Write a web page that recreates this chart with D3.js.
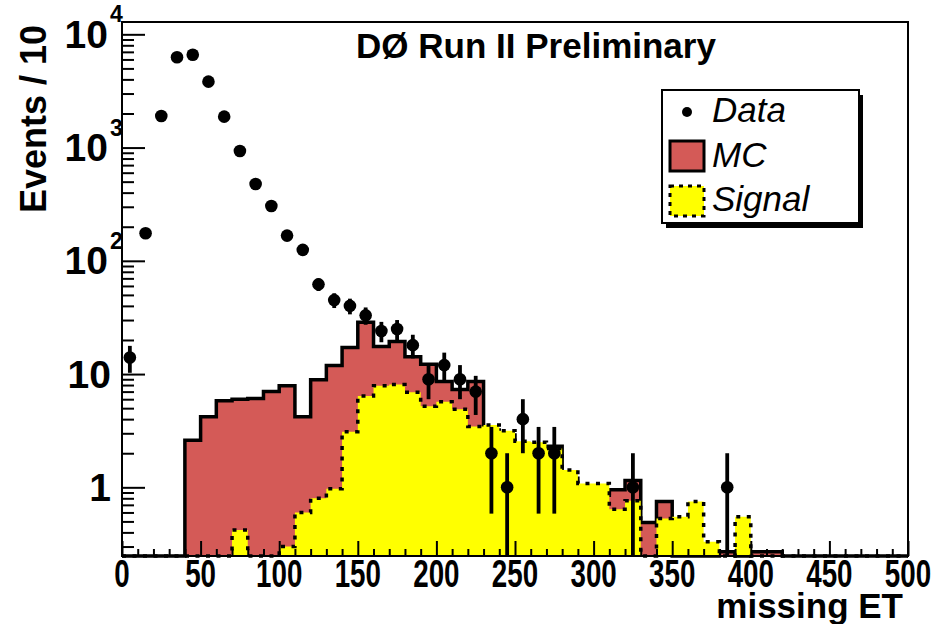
<!DOCTYPE html>
<html>
<head>
<meta charset="utf-8">
<script src="https://cdn.jsdelivr.net/npm/d3@7"></script>
<style>
body{margin:0;background:#fff;}
text{font-family:"Liberation Sans",Arial,sans-serif;}
</style>
</head>
<body>
<div id="chart"></div>
<script>
var width = 951
var height = 624
var margin = {top:22, right:43, bottom:68, left:122}

// bin lower edges (GeV), 10 wide
var binLow = [0,10,20,30,40,50,60,70,80,90,100,110,120,130,140,150,160,170,180,190,
              200,210,220,230,240,250,260,270,280,290,300,310,320,330,340,350,360,370,380,390,
              400,410,420,430,440,450,460,470,480,490]
var dataCounts = [14,175,1900,6270,6600,3820,1875,933,477,305,
                  167,125,62,45,40,33,24,25,18,9,
                  12,9,7,2,1,4,2,2,0,0,
                  0,0,1,0,0,0,0,0,1,0,
                  0,0,0,0,0,0,0,0,0,0]
var mcValues = [0,0,0,0,2.6,4.2,5.8,6.0,6.1,7.0,
                7.9,4.2,8.9,11.9,17.2,28.7,17.5,19.4,14.2,12.2,
                8.6,7.3,8.6,3.2,2.9,2.3,2.2,2.3,1.2,0.95,
                0.85,0.95,1.15,0.49,0.75,0,0,0,0.27,0,
                0.27,0.27,0,0,0,0,0,0,0,0]
var signalValues = [0,0,0,0,0,0,0,0.42,0,0,
                    0.30,0.60,0.80,0.97,3.1,6.4,7.9,8.1,6.9,5.2,
                    5.7,4.9,3.45,3.55,3.16,2.55,2.5,2.2,1.42,1.08,
                    1.08,0.64,0.76,0,0.53,0.55,0.75,0.33,0,0.55,
                    0,0,0,0,0,0,0,0,0,0]
var xTicks = [0,50,100,150,200,250,300,350,400,450,500]
var yTicks = [1,10,100,1000,10000]
var yTickBase = ['1','10','10','10','10']
var yTickExp = ['','','2','3','4']
var legendLabels = ['Data','MC','Signal']

var mcColor = '#d45a57'
var sigColor = '#ffff00'
var binWidth = 10

var svg = d3.select('#chart').append('svg')
  .attr('width',width).attr('height',height)

var x = d3.scaleLinear().domain([0,500]).range([margin.left, width-margin.right])
var yMin = 0.2475
var y = d3.scaleLog().domain([yMin,12846]).range([height-margin.bottom, margin.top]).clamp(true)
var yBottom = height-margin.bottom

function yv(v){ return v > yMin ? y(v) : yBottom }

function stepPath(vals, closed){
  var p = 'M'+x(0)+','+yBottom
  vals.forEach(function(v,i){
    p += 'L'+x(binLow[i])+','+yv(v)+'L'+x(binLow[i]+binWidth)+','+yv(v)
  })
  p += 'L'+x(500)+','+yBottom
  if(closed) p += 'Z'
  return p
}

// MC histogram
svg.append('path').attr('d',stepPath(mcValues,true)).attr('fill',mcColor).attr('stroke','none')
svg.append('path').attr('d',stepPath(mcValues,false)).attr('fill','none')
  .attr('stroke','black').attr('stroke-width',3.5).attr('stroke-linejoin','miter')

// signal histogram
svg.append('path').attr('d',stepPath(signalValues,true)).attr('fill',sigColor).attr('stroke','none')
svg.append('path').attr('d',stepPath(signalValues,false)).attr('fill','none')
  .attr('stroke','black').attr('stroke-width',3.5).attr('stroke-dasharray','4,6.5')

// data points with sqrt(N) errors
var pts = svg.append('g')
dataCounts.forEach(function(n,i){
  if(n <= 0) return
  var cx = x(binLow[i]+binWidth/2)
  var err = Math.sqrt(n)
  pts.append('line').attr('x1',cx).attr('x2',cx)
    .attr('y1',yv(n-err)).attr('y2',yv(n+err))
    .attr('stroke','black').attr('stroke-width',3.8)
  pts.append('circle').attr('cx',cx).attr('cy',y(n)).attr('r',6.3).attr('fill','black')
})

// frame
svg.append('rect').attr('x',x(0)).attr('y',margin.top)
  .attr('width',x(500)-x(0)).attr('height',yBottom-margin.top)
  .attr('fill','none').attr('stroke','black').attr('stroke-width',2)

// y axis ticks (inside)
var yMinor = y.ticks().filter(function(t){ return yTicks.indexOf(t) < 0 })
var gy = svg.append('g').attr('transform','translate('+x(0)+',0)')
gy.append('g').call(d3.axisLeft(y).tickValues(yTicks).tickSize(-23).tickFormat(''))
gy.append('g').call(d3.axisLeft(y).tickValues(yMinor).tickSize(-12).tickFormat(''))
gy.selectAll('.domain').remove()
gy.selectAll('line').attr('stroke','black').attr('stroke-width',2)

yTicks.forEach(function(t,i){
  var ty = y(t)
  svg.append('text').attr('x',yTickExp[i] ? 108 : 111).attr('y',ty+13.5)
    .attr('text-anchor','end').attr('font-size',39).attr('font-weight','bold')
    .text(yTickBase[i])
  if(yTickExp[i]){
    svg.append('text').attr('x',110).attr('y',ty-12)
      .attr('font-size',23).attr('font-weight','bold').text(yTickExp[i])
  }
})

// x axis ticks (inside)
var gx = svg.append('g').attr('transform','translate(0,'+yBottom+')')
gx.append('g').call(d3.axisBottom(x).tickValues(xTicks).tickSize(-15).tickFormat(''))
gx.append('g').call(d3.axisBottom(x).tickValues(x.ticks(50).filter(function(t){return t%50!==0})).tickSize(-7).tickFormat(''))
gx.selectAll('.domain').remove()
gx.selectAll('line').attr('stroke','black').attr('stroke-width',2)

xTicks.forEach(function(t){
  svg.append('g').attr('transform','translate('+x(t)+',587) scale(0.73,1)')
    .append('text').attr('text-anchor','middle').attr('font-size',38)
    .attr('font-weight','bold').text(t)
})

// axis titles
svg.append('text').attr('transform','translate(46,25) rotate(-90)')
  .attr('text-anchor','end').attr('font-size',36).attr('font-weight','bold')
  .text('Events / 10')
svg.append('text').attr('x',903).attr('y',618).attr('text-anchor','end')
  .attr('font-size',35).attr('font-weight','bold').text('missing ET')

// title
svg.append('text').attr('x',536).attr('y',58).attr('text-anchor','middle')
  .attr('font-size',35).attr('font-weight','bold').text('DØ Run II Preliminary')

// legend
var lg = svg.append('g')
lg.append('rect').attr('x',666).attr('y',95).attr('width',197).attr('height',133).attr('fill','black')
lg.append('rect').attr('x',662).attr('y',90).attr('width',197).attr('height',133)
  .attr('fill','white').attr('stroke','black').attr('stroke-width',2)
lg.append('circle').attr('cx',687).attr('cy',112).attr('r',5).attr('fill','black')
lg.append('rect').attr('x',670).attr('y',141).attr('width',34).attr('height',30)
  .attr('fill',mcColor).attr('stroke','black').attr('stroke-width',3)
lg.append('rect').attr('x',670).attr('y',186).attr('width',34).attr('height',30)
  .attr('fill',sigColor).attr('stroke','black').attr('stroke-width',3).attr('stroke-dasharray','4,5')
var legendY = [122,167,211]
legendLabels.forEach(function(l,i){
  lg.append('text').attr('x',712).attr('y',legendY[i]).attr('font-size',35)
    .attr('font-style','italic').text(l)
})
</script>
</body>
</html>
